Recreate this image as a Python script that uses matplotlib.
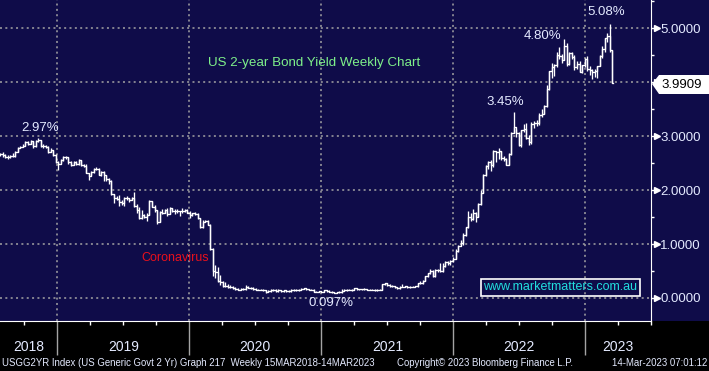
import numpy as np
import pandas as pd
import matplotlib
matplotlib.use("Agg")
import matplotlib.pyplot as plt
import matplotlib.dates as mdates
from matplotlib.patches import Rectangle, Polygon

# weekly bars (Friday), USGG2YR, Jul-2018 .. Mar-2023
c2018 = [2.67, 2.64, 2.61, 2.61, 2.63, 2.63, 2.70, 2.78, 2.80, 2.82, 2.89, 2.85, 2.91, 2.81, 2.91, 2.92,
         2.81, 2.82, 2.79, 2.71, 2.74, 2.64, 2.52]
h2018 = [2.69, 2.70, 2.67, 2.64, 2.64, 2.68, 2.72, 2.79, 2.82, 2.85, 2.90, 2.91, 2.92, 2.91, 2.93, 2.97,
         2.92, 2.86, 2.83, 2.81, 2.77, 2.75, 2.66]
l2018 = [2.63, 2.62, 2.59, 2.58, 2.59, 2.61, 2.62, 2.70, 2.77, 2.79, 2.81, 2.83, 2.85, 2.78, 2.80, 2.88,
         2.79, 2.78, 2.77, 2.69, 2.70, 2.63, 2.50]

c2019 = [2.49, 2.55, 2.62, 2.61, 2.51, 2.46, 2.52, 2.49, 2.55, 2.46, 2.44, 2.31, 2.26, 2.34, 2.39, 2.39,
         2.28, 2.34, 2.27, 2.20, 2.16, 1.92, 1.85, 1.84, 1.77, 1.76, 1.86, 1.85, 1.81, 1.85, 1.71, 1.63,
         1.48, 1.53, 1.50, 1.53, 1.79, 1.69, 1.63, 1.40, 1.59, 1.58, 1.63, 1.55, 1.67, 1.61, 1.62, 1.61,
         1.62, 1.61, 1.63, 1.58]
h2019 = [2.54, 2.58, 2.63, 2.63, 2.62, 2.54, 2.53, 2.54, 2.57, 2.56, 2.49, 2.48, 2.30, 2.36, 2.40, 2.42,
         2.41, 2.35, 2.35, 2.28, 2.23, 2.18, 1.93, 1.89, 1.90, 1.81, 1.87, 1.88, 1.86, 1.87, 1.97, 1.75,
         1.69, 1.63, 1.56, 1.57, 1.81, 1.80, 1.73, 1.63, 1.61, 1.64, 1.64, 1.66, 1.69, 1.67, 1.64, 1.64,
         1.62, 1.67, 1.64, 1.64]
l2019 = [2.37, 2.50, 2.53, 2.58, 2.49, 2.45, 2.46, 2.46, 2.46, 2.45, 2.42, 2.31, 2.18, 2.28, 2.31, 2.37,
         2.27, 2.26, 2.16, 2.16, 2.12, 1.91, 1.76, 1.81, 1.71, 1.72, 1.70, 1.82, 1.78, 1.81, 1.69, 1.57,
         1.47, 1.46, 1.48, 1.43, 1.54, 1.68, 1.60, 1.37, 1.41, 1.55, 1.57, 1.52, 1.55, 1.60, 1.56, 1.57,
         1.52, 1.57, 1.60, 1.57]

c2020 = [1.53, 1.57, 1.56, 1.49, 1.31, 1.40, 1.42, 1.35, 0.91, 0.50, 0.49, 0.32, 0.30, 0.23, 0.23, 0.20,
         0.21, 0.19, 0.16, 0.15, 0.17, 0.16, 0.21, 0.19, 0.19, 0.16, 0.15, 0.15, 0.15, 0.14, 0.11, 0.13,
         0.15, 0.14, 0.13, 0.14, 0.13, 0.14, 0.13, 0.13, 0.15, 0.14, 0.15, 0.15, 0.16, 0.18, 0.16, 0.15,
         0.15, 0.12, 0.12, 0.13]
h2020 = [1.61, 1.58, 1.60, 1.58, 1.49, 1.44, 1.45, 1.44, 1.37, 0.93, 0.61, 0.58, 0.42, 0.31, 0.29, 0.26,
         0.24, 0.23, 0.20, 0.19, 0.18, 0.18, 0.24, 0.22, 0.20, 0.20, 0.18, 0.17, 0.17, 0.16, 0.15, 0.14,
         0.16, 0.16, 0.17, 0.16, 0.15, 0.15, 0.15, 0.14, 0.17, 0.16, 0.17, 0.17, 0.19, 0.19, 0.19, 0.17,
         0.17, 0.16, 0.13, 0.13]
l2020 = [1.49, 1.52, 1.54, 1.46, 1.30, 1.30, 1.40, 1.35, 0.89, 0.40, 0.37, 0.30, 0.24, 0.20, 0.21, 0.18,
         0.18, 0.17, 0.15, 0.14, 0.15, 0.15, 0.15, 0.18, 0.17, 0.15, 0.14, 0.14, 0.14, 0.13, 0.10, 0.11,
         0.12, 0.13, 0.12, 0.12, 0.12, 0.12, 0.12, 0.12, 0.12, 0.13, 0.13, 0.13, 0.14, 0.16, 0.15, 0.14,
         0.14, 0.11, 0.11, 0.11]

c2021 = [0.12, 0.14, 0.13, 0.12, 0.11, 0.10, 0.11, 0.11, 0.13, 0.14, 0.15, 0.15, 0.14, 0.18, 0.16, 0.16,
         0.17, 0.16, 0.15, 0.15, 0.15, 0.14, 0.15, 0.15, 0.25, 0.27, 0.24, 0.22, 0.22, 0.20, 0.19, 0.21,
         0.21, 0.22, 0.21, 0.21, 0.21, 0.22, 0.27, 0.27, 0.32, 0.40, 0.46, 0.50, 0.40, 0.51, 0.51, 0.50,
         0.59, 0.66, 0.64, 0.69, 0.73]
h2021 = [0.13, 0.15, 0.15, 0.14, 0.13, 0.12, 0.12, 0.13, 0.17, 0.16, 0.17, 0.16, 0.16, 0.19, 0.19, 0.17,
         0.17, 0.18, 0.17, 0.17, 0.16, 0.16, 0.17, 0.16, 0.26, 0.28, 0.27, 0.25, 0.24, 0.22, 0.21, 0.23,
         0.25, 0.23, 0.23, 0.23, 0.22, 0.23, 0.28, 0.31, 0.33, 0.41, 0.47, 0.53, 0.51, 0.53, 0.54, 0.64,
         0.64, 0.69, 0.69, 0.70, 0.76]
l2021 = [0.11, 0.11, 0.12, 0.11, 0.10, 0.09, 0.10, 0.10, 0.10, 0.13, 0.13, 0.14, 0.13, 0.14, 0.15, 0.15,
         0.15, 0.15, 0.14, 0.14, 0.14, 0.13, 0.13, 0.14, 0.14, 0.24, 0.23, 0.21, 0.20, 0.18, 0.17, 0.17,
         0.20, 0.21, 0.19, 0.19, 0.20, 0.20, 0.20, 0.26, 0.26, 0.31, 0.38, 0.44, 0.39, 0.39, 0.48, 0.48,
         0.49, 0.58, 0.61, 0.62, 0.67]

c2022 = [0.87, 0.97, 1.01, 1.17, 1.31, 1.50, 1.47, 1.57, 1.50, 1.75, 1.95, 2.27, 2.44, 2.51, 2.46, 2.72,
         2.70, 2.72, 2.59, 2.58, 2.47, 2.66, 3.06, 3.17, 3.05, 2.84, 3.11, 3.13, 2.97, 2.88, 3.23, 3.25,
         3.24, 3.39, 3.40, 3.56, 3.87, 4.20, 4.28, 4.31, 4.50, 4.48, 4.41, 4.66, 4.33, 4.53, 4.46, 4.28,
         4.34, 4.18, 4.32, 4.43]
h2022 = [0.90, 0.98, 1.07, 1.20, 1.32, 1.62, 1.57, 1.64, 1.60, 1.76, 2.00, 2.30, 2.46, 2.53, 2.56, 2.74,
         2.72, 2.78, 2.72, 2.63, 2.59, 2.69, 3.07, 3.45, 3.13, 3.07, 3.12, 3.22, 3.24, 3.02, 3.26, 3.28,
         3.29, 3.42, 3.50, 3.57, 3.94, 4.21, 4.36, 4.33, 4.55, 4.64, 4.52, 4.80, 4.72, 4.55, 4.55, 4.50,
         4.39, 4.39, 4.32, 4.44]
l2022 = [0.72, 0.86, 0.98, 0.98, 1.14, 1.30, 1.43, 1.44, 1.41, 1.50, 1.72, 1.94, 2.26, 2.38, 2.36, 2.43,
         2.51, 2.57, 2.55, 2.53, 2.47, 2.47, 2.65, 3.05, 2.98, 2.81, 2.79, 3.08, 2.95, 2.84, 2.85, 3.14,
         3.18, 3.20, 3.36, 3.40, 3.54, 3.85, 4.08, 4.11, 4.27, 4.43, 4.36, 4.40, 4.30, 4.31, 4.42, 4.22,
         4.25, 4.18, 4.17, 4.27]

c2023 = [4.25, 4.22, 4.18, 4.20, 4.29, 4.49, 4.62, 4.81, 4.86, 4.59, 3.99]
h2023 = [4.48, 4.29, 4.24, 4.25, 4.30, 4.50, 4.67, 4.82, 4.90, 5.08, 4.60]
l2023 = [4.20, 4.13, 4.06, 4.10, 4.08, 4.29, 4.45, 4.56, 4.75, 4.56, 3.98]

dates = pd.date_range("2018-07-27", "2023-03-17", freq="W-FRI")
close = np.array(c2018 + c2019 + c2020 + c2021 + c2022 + c2023)
high = np.array(h2018 + h2019 + h2020 + h2021 + h2022 + h2023)
low = np.array(l2018 + l2019 + l2020 + l2021 + l2022 + l2023)
last_px = 3.9909

year_labels = ["2018", "2019", "2020", "2021", "2022", "2023"]
y_levels = [0, 1, 2, 3, 4, 5]

NAVY = "#0f0c49"
TXT = "#e4eaff"
GRID = "#a4a4a4"
W, H = 709, 371

def px(x, y):
    return x / W, 1 - y / H

fig = plt.figure(figsize=(W / 100, H / 100), dpi=100, facecolor=NAVY)
fig.patches.append(Rectangle((0, 0), 1, 50 / H, transform=fig.transFigure,
                             facecolor="black", edgecolor="none", zorder=-1))
ax = fig.add_axes([0, 50 / H, 651 / W, 321 / H])
ax.set_facecolor(NAVY)

x = mdates.date2num(dates)
ax.vlines(x, low, high, color="white", lw=0.95, zorder=3)
ax.step(np.append(x, x[-1] + 3), np.append(close, close[-1]), where="post",
        color="white", lw=0.95, zorder=3)

d0 = mdates.date2num(pd.Timestamp("2019-01-01"))
ax.set_xlim(d0 - 158.5, d0 + 1461 + 181.8)
ax.set_ylim(-0.426, 5.519)

# axes / ticks
for s in ["top", "left"]:
    ax.spines[s].set_visible(False)
ax.spines["right"].set_color("white")
ax.spines["bottom"].set_color("white")
ax.yaxis.tick_right()
ax.set_yticks(y_levels)
ax.set_yticklabels([f"{v:.4f}" for v in y_levels], color=TXT, fontsize=9.5,
                   family="Liberation Sans")
ax.set_yticks(np.arange(0.5, 5.6, 1.0), minor=True)
ax.tick_params(axis="y", which="major", length=5, width=1, color="white", pad=1.5)
ax.tick_params(axis="y", which="minor", length=2.5, width=1, color="white")
ax.plot([1.0085] * len(y_levels), y_levels, ls="none", marker=">", ms=4.5, color="white",
        transform=ax.get_yaxis_transform(), clip_on=False)

ax.xaxis.set_major_locator(mdates.YearLocator())
ax.xaxis.set_minor_locator(mdates.MonthLocator(bymonth=[1, 4, 7, 10]))
ax.xaxis.set_major_formatter(plt.NullFormatter())
ax.tick_params(axis="x", which="major", length=24.5, width=1, color=GRID)
ax.tick_params(axis="x", which="minor", length=3, width=1, color="white")

ax.grid(True, which="major", color=GRID, lw=1.1, ls=(0, (1.3, 2.2)))
ax.set_axisbelow(True)

# year labels centred in each visible year
xl = ax.get_xlim()
for lab in year_labels:
    a = max(xl[0], mdates.date2num(pd.Timestamp(f"{lab}-01-01")))
    b = min(xl[1], mdates.date2num(pd.Timestamp(f"{int(lab) + 1}-01-01")))
    ax.text((a + b) / 2, -26 / 321, lab, transform=ax.get_xaxis_transform(),
            ha="center", va="center", color=TXT, fontsize=10, family="Liberation Sans")

# annotations
lab_kw = dict(ha="center", va="center", color=TXT, fontsize=9.5, family="Liberation Sans")
fig.text(*px(40, 128), "2.97%", **lab_kw)
fig.text(*px(505, 102), "3.45%", **lab_kw)
fig.text(*px(543, 36), "4.80%", **lab_kw)
fig.text(*px(606, 12), "5.08%", **lab_kw)
fig.text(*px(331, 303), "0.097%", **lab_kw)
fig.text(*px(314, 63), "US 2-year Bond Yield Weekly Chart", ha="center", va="center",
         color="#7ef08a", fontsize=9.6, family="Liberation Sans")
fig.text(*px(175, 258), "Coronavirus", ha="center", va="center",
         color="#e8101c", fontsize=9, family="Liberation Sans")
fig.text(*px(560.5, 287.5), "www.marketmatters.com.au", ha="center", va="center",
         color="#22dede", fontsize=9, family="Liberation Sans",
         bbox=dict(boxstyle="square,pad=0.22", facecolor="none", edgecolor="white", lw=1.2))

# last price box
poly = [px(652, 84), px(659, 75), px(709, 75), px(709, 94), px(659, 94)]
fig.patches.append(Polygon(poly, closed=True, transform=fig.transFigure,
                           facecolor="white", edgecolor="none", zorder=5))
fig.text(*px(661, 84.5), f"{last_px:.4f}", ha="left", va="center", color="black",
         fontsize=9.5, family="Liberation Sans", zorder=6)

# footer
foot_kw = dict(va="center", color=TXT, fontsize=6.9, family="Liberation Sans")
fig.text(*px(2, 363), "USGG2YR Index (US Generic Govt 2 Yr) Graph 217  Weekly 15MAR2018-14MAR2023",
         ha="left", **foot_kw)
fig.text(*px(397, 363), "Copyright\u00a9 2023 Bloomberg Finance L.P.", ha="left", **foot_kw)
fig.text(*px(707, 363), "14-Mar-2023 07:01:12", ha="right", **foot_kw)

fig.savefig("out.png", dpi=100, facecolor=NAVY)
